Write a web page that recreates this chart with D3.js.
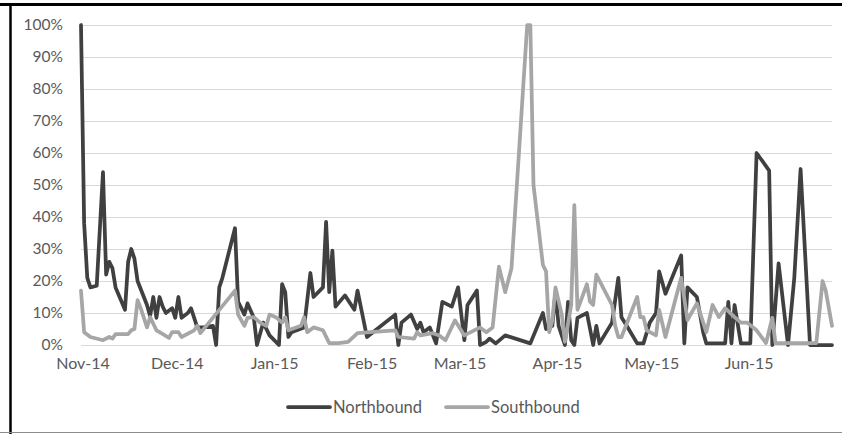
<!DOCTYPE html>
<html><head><meta charset="utf-8">
<script src="https://cdn.jsdelivr.net/npm/d3@7"></script>
<style>
html,body{margin:0;padding:0;background:#fff;}
svg{display:block;}
text{font-family:Lato,"Open Sans",sans-serif;fill:#595959;}
</style></head>
<body>
<svg id="chart" width="842" height="434"></svg>
<script>
// ---- data ----
const seriesNames = ["Northbound", "Southbound"];
const yTicks = [0,0.1,0.2,0.3,0.4,0.5,0.6,0.7,0.8,0.9,1.0];
const monthTicks = ["2014-11-01","2014-12-01","2015-01-01","2015-02-01","2015-03-01","2015-04-01","2015-05-01","2015-06-01"];
const dateDomain = ["2014-11-01","2015-06-28"];

const northDates = ["2014-11-01","2014-11-02","2014-11-03","2014-11-04","2014-11-06","2014-11-08","2014-11-09","2014-11-10","2014-11-11","2014-11-12","2014-11-15","2014-11-16","2014-11-17","2014-11-18","2014-11-19","2014-11-22","2014-11-23","2014-11-24","2014-11-25","2014-11-26","2014-11-27","2014-11-28","2014-11-30",
"2014-12-01","2014-12-02","2014-12-03","2014-12-05","2014-12-06","2014-12-08","2014-12-10","2014-12-13","2014-12-14","2014-12-15","2014-12-16","2014-12-20","2014-12-21","2014-12-22","2014-12-23","2014-12-24","2014-12-26","2014-12-27","2014-12-29","2014-12-31",
"2015-01-03","2015-01-04","2015-01-05","2015-01-06","2015-01-07","2015-01-11","2015-01-13","2015-01-14","2015-01-17","2015-01-18","2015-01-19","2015-01-20","2015-01-21","2015-01-24","2015-01-27","2015-01-28","2015-01-31",
"2015-02-09","2015-02-10","2015-02-11","2015-02-14","2015-02-16","2015-02-17","2015-02-18","2015-02-20","2015-02-22","2015-02-24","2015-02-27",
"2015-03-01","2015-03-03","2015-03-04","2015-03-07","2015-03-08","2015-03-10","2015-03-11","2015-03-13","2015-03-16","2015-03-24","2015-03-28","2015-03-29","2015-03-31",
"2015-04-01","2015-04-02","2015-04-04","2015-04-05","2015-04-06","2015-04-07","2015-04-08","2015-04-11","2015-04-13","2015-04-14","2015-04-15","2015-04-19","2015-04-21","2015-04-22","2015-04-24","2015-04-27","2015-04-29",
"2015-05-01","2015-05-03","2015-05-04","2015-05-06","2015-05-11","2015-05-12","2015-05-13","2015-05-16","2015-05-18","2015-05-19","2015-05-25","2015-05-26","2015-05-27","2015-05-28","2015-05-30",
"2015-06-02","2015-06-04","2015-06-08","2015-06-09","2015-06-11","2015-06-14","2015-06-16","2015-06-18","2015-06-21","2015-06-28"];
const northValues = [100,38,21,18,18.5,54,22,26,24,18,11,26,30,27,20,12.5,9,15,8.5,15,12,10,11.5,
8.5,15,8.5,10,11.5,5.5,5.5,6,0,18,21,36.5,13.5,11.5,9.5,13,8.5,0,7,3,
0,19,16.5,2.5,4,5.5,22.5,15,18,38.5,16.5,29.5,12,15.5,11,17,2.5,
9.5,0,7,9.5,5,7,4,5.5,0.5,13.5,12,
18,1.5,12.5,17,0,1,2,0.5,3,0.5,10,5,6,
16.5,6,0,13.5,1.5,0,8.5,10,0,6,0.5,7,21,8.7,5.5,0.5,0.5,
7,10,23,16,28,0.5,18,15,4,0.5,0.5,13.5,0.5,12.5,0.5,
0.5,60,54.5,0,25.5,0,21,55,0,0];

const southDates = ["2014-11-01","2014-11-02","2014-11-04","2014-11-08","2014-11-10","2014-11-11","2014-11-12","2014-11-16","2014-11-17","2014-11-18","2014-11-19","2014-11-20","2014-11-22","2014-11-23","2014-11-25","2014-11-26","2014-11-29","2014-11-30",
"2014-12-02","2014-12-03","2014-12-07","2014-12-08","2014-12-09","2014-12-20","2014-12-21","2014-12-23","2014-12-24","2014-12-26","2014-12-28","2014-12-30","2014-12-31",
"2015-01-02","2015-01-04","2015-01-05","2015-01-06","2015-01-10","2015-01-11","2015-01-12","2015-01-14","2015-01-17","2015-01-19","2015-01-22","2015-01-25","2015-01-28",
"2015-02-01","2015-02-09","2015-02-10","2015-02-15","2015-02-16","2015-02-17","2015-02-21","2015-02-23","2015-02-25","2015-02-28",
"2015-03-03","2015-03-08","2015-03-10","2015-03-12","2015-03-14","2015-03-16","2015-03-18","2015-03-23","2015-03-24","2015-03-25","2015-03-28","2015-03-29","2015-03-30","2015-03-31",
"2015-04-01","2015-04-03","2015-04-04","2015-04-06","2015-04-07","2015-04-08","2015-04-11","2015-04-12","2015-04-13","2015-04-14","2015-04-19","2015-04-20","2015-04-21","2015-04-22","2015-04-27","2015-04-28","2015-04-29","2015-04-30",
"2015-05-03","2015-05-04","2015-05-06","2015-05-11","2015-05-13","2015-05-16","2015-05-19","2015-05-21","2015-05-23","2015-05-25","2015-05-28","2015-05-30",
"2015-06-01","2015-06-04","2015-06-07","2015-06-09","2015-06-10","2015-06-23","2015-06-25","2015-06-26","2015-06-28"];
const southValues = [17,4,2.5,1.5,2.5,2,3.4,3.4,4.6,5,14,11.5,5.5,8.7,4.6,4,2.2,4,
4,2.5,4.6,6,3.7,17,9.5,6,8.5,8.7,7,6,9.5,
8.7,7,8.7,4.6,6,8.7,4,5.5,4.6,0.6,0.6,1,3.7,
4,4.6,2.5,2,4,3,3.7,3,1.5,7.7,
3,5.5,4,5.5,24.5,16.5,24,100,100,50,25,23,4,7.7,
18,9.5,1,12.5,43.7,11,19,13.5,12.5,22,12.5,6,2.5,2.5,15,8.7,8.7,4.6,
3,11,2.5,21,7.8,13,4,12.5,8.7,11.5,8.7,7,
7,4.6,0.6,8.5,0.6,0.6,20,17,6];

// ---- chart ----
const W = 842, H = 434;
const plot = {left:81, right:832, top:25, bottom:345};
const parse = d3.utcParse("%Y-%m-%d");
const svg = d3.select("#chart");

const x = d3.scaleUtc().domain(dateDomain.map(parse)).range([plot.left, plot.right]);
const y = d3.scaleLinear().domain([0,1]).range([plot.bottom, plot.top]);

// frame
svg.append("line").attr("x1",0).attr("x2",W).attr("y1",4.5).attr("y2",4.5).attr("stroke","#000").attr("stroke-width",3);
svg.append("line").attr("x1",10.5).attr("x2",10.5).attr("y1",3).attr("y2",H).attr("stroke","#000").attr("stroke-width",2.5);
svg.append("line").attr("x1",0).attr("x2",W).attr("y1",432.5).attr("y2",432.5).attr("stroke","#8c8c8c").attr("stroke-width",1);

// gridlines
svg.append("g").selectAll("line").data(yTicks).join("line")
  .attr("x1",plot.left).attr("x2",plot.right)
  .attr("y1",d=>Math.round(y(d))+0.5).attr("y2",d=>Math.round(y(d))+0.5)
  .attr("stroke","#d9d9d9").attr("stroke-width",1);

// y axis
const yAxis = svg.append("g").attr("transform",`translate(${plot.left},0)`)
  .call(d3.axisLeft(y).tickValues(yTicks).tickFormat(d3.format(".0%")).tickSize(0).tickPadding(18));
yAxis.select(".domain").remove();
yAxis.selectAll("text").style("font-size","15.5px").style("fill","#595959").style("font-family","Lato");

// x axis
const xAxis = svg.append("g").attr("transform",`translate(1.5,${plot.bottom})`)
  .call(d3.axisBottom(x).tickValues(monthTicks.map(parse)).tickFormat(d3.utcFormat("%b-%y")).tickSize(0).tickPadding(13));
xAxis.select(".domain").remove();
xAxis.selectAll("text").style("font-size","16px").style("fill","#595959").style("font-family","Lato");

// lines
const colors = {Northbound:"#404040", Southbound:"#a6a6a6"};
const series = [
  {name:seriesNames[0], pts:northDates.map((d,i)=>({date:parse(d), v:northValues[i]/100}))},
  {name:seriesNames[1], pts:southDates.map((d,i)=>({date:parse(d), v:southValues[i]/100}))}
];
const line = d3.line().x(d=>x(d.date)).y(d=>y(d.v));
svg.append("g").selectAll("path").data(series).join("path")
  .attr("d",d=>line(d.pts))
  .attr("fill","none")
  .attr("stroke",d=>colors[d.name])
  .attr("stroke-width",3.75)
  .attr("stroke-linejoin","round")
  .attr("stroke-linecap","round");

// legend
const legendX = [288, 446];
const leg = svg.append("g").selectAll("g").data(seriesNames).join("g")
  .attr("transform",(d,i)=>`translate(${legendX[i]},407)`);
leg.append("line").attr("x1",0).attr("x2",42).attr("y1",0).attr("y2",0)
  .attr("stroke",d=>colors[d]).attr("stroke-width",3.75).attr("stroke-linecap","round");
leg.append("text").attr("x",45).attr("y",6).text(d=>d)
  .style("font-size","16.5px").style("fill","#595959");
</script>
</body></html>
